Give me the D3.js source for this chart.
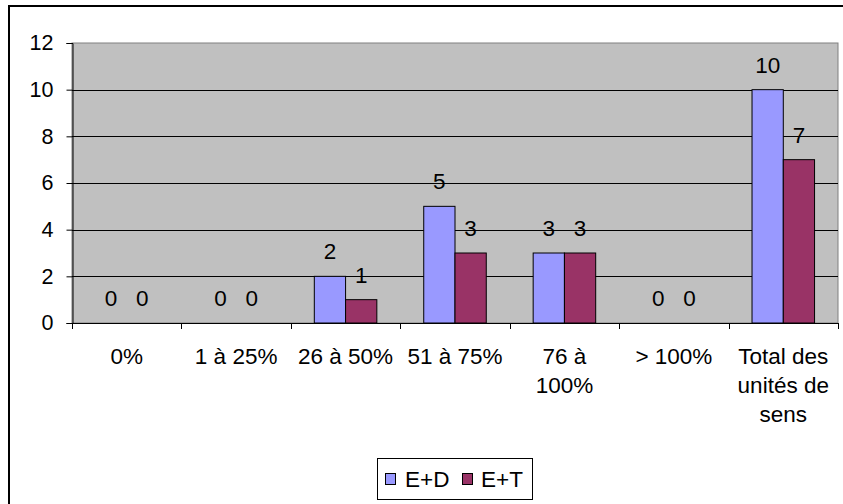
<!DOCTYPE html>
<html>
<head>
<meta charset="utf-8">
<script src="https://cdn.jsdelivr.net/npm/d3@7"></script>
<style>
  html, body { margin: 0; padding: 0; background: #fff; }
  svg text { font-family: "Liberation Sans", Arial, sans-serif; fill: #000; }
</style>
</head>
<body>
<svg id="chart" width="843" height="504"></svg>
<script>
// Répartition des unités de sens par tranche
const categories = [
  ["0%"],
  ["1 à 25%"],
  ["26 à 50%"],
  ["51 à 75%"],
  ["76 à", "100%"],
  ["> 100%"],
  ["Total des", "unités de", "sens"]
];
const seriesNames = ["E+D", "E+T"];
const valuesED = [0, 0, 2, 5, 3, 0, 10];
const valuesET = [0, 0, 1, 3, 3, 0, 7];
const yTicks = [0, 2, 4, 6, 8, 10, 12];
const colors = ["#9999FF", "#993366"];

const svg = d3.select("#chart");
const plot = { left: 72, top: 43, right: 838, bottom: 323 };
const fontSize = 22.5;
const tickFontSize = 21.5;

// Cadre extérieur
svg.append("rect")
  .attr("x", 9).attr("y", 6)
  .attr("width", 900).attr("height", 600)
  .attr("fill", "#fff").attr("stroke", "#000").attr("stroke-width", 2);

const x = d3.scaleBand()
  .domain(d3.range(categories.length))
  .range([plot.left, plot.right])
  .paddingInner(0).paddingOuter(0);

const y = d3.scaleLinear().domain([0, 12]).range([plot.bottom, plot.top]);

// Fond de la zone de traçage
svg.append("rect")
  .attr("x", plot.left).attr("y", plot.top)
  .attr("width", plot.right - plot.left).attr("height", plot.bottom - plot.top)
  .attr("fill", "#C0C0C0").attr("stroke", "#808080").attr("stroke-width", 1);

// Quadrillage horizontal
svg.append("g").selectAll("line")
  .data(yTicks.filter(t => t > 0 && t < 12))
  .join("line")
  .attr("x1", plot.left).attr("x2", plot.right)
  .attr("y1", d => Math.round(y(d)) + 0.5).attr("y2", d => Math.round(y(d)) + 0.5)
  .attr("stroke", "#000").attr("stroke-width", 1);

// Barres groupées
const bandW = x.bandwidth();
const barW = bandW / 3.5;
const series = [valuesED, valuesET];
const gBars = svg.append("g");
series.forEach((vals, si) => {
  gBars.selectAll(null)
    .data(vals)
    .join("rect")
    .attr("x", (d, i) => x(i) + bandW / 2 - barW + si * barW)
    .attr("y", d => y(d))
    .attr("width", barW)
    .attr("height", d => y(0) - y(d))
    .attr("fill", colors[si])
    .attr("stroke", "#000").attr("stroke-width", 1);
});

// Étiquettes de valeur
series.forEach((vals, si) => {
  svg.append("g").selectAll("text")
    .data(vals)
    .join("text")
    .attr("x", (d, i) => x(i) + bandW / 2 - barW + si * barW + barW / 2)
    .attr("y", d => y(d) - 17)
    .attr("text-anchor", "middle")
    .attr("font-size", fontSize)
    .text(d => d);
});

// Axe vertical
const yAxis = d3.axisLeft(y).tickValues(yTicks).tickSize(6).tickPadding(13).tickFormat(d3.format("d"));
const gy = svg.append("g").attr("transform", `translate(${plot.left + 0.5},0)`).call(yAxis);
gy.select(".domain").attr("stroke", "#000");
gy.selectAll(".tick line").attr("stroke", "#000");
gy.selectAll(".tick text").attr("font-size", tickFontSize).attr("font-family", "Liberation Sans, Arial, sans-serif").attr("fill", "#000");

// Axe horizontal
svg.append("line")
  .attr("x1", plot.left).attr("x2", plot.right)
  .attr("y1", plot.bottom + 0.5).attr("y2", plot.bottom + 0.5)
  .attr("stroke", "#000");
svg.append("g").selectAll("line")
  .data(d3.range(categories.length + 1))
  .join("line")
  .attr("x1", i => Math.round(plot.left + i * bandW) + 0.5)
  .attr("x2", i => Math.round(plot.left + i * bandW) + 0.5)
  .attr("y1", plot.bottom).attr("y2", plot.bottom + 6)
  .attr("stroke", "#000");

// Libellés des catégories
const gx = svg.append("g");
categories.forEach((lines, i) => {
  const t = gx.append("text")
    .attr("x", x(i) + bandW / 2)
    .attr("y", 364)
    .attr("text-anchor", "middle")
    .attr("font-size", fontSize);
  lines.forEach((ln, k) => {
    t.append("tspan")
      .attr("x", x(i) + bandW / 2)
      .attr("dy", k === 0 ? 0 : 29)
      .text(ln);
  });
});

// Légende
const legend = svg.append("g");
legend.append("rect")
  .attr("x", 377.5).attr("y", 458.5).attr("width", 155).attr("height", 41)
  .attr("fill", "#fff").attr("stroke", "#000");
const legendItems = [
  { name: seriesNames[0], color: colors[0], sx: 385, tx: 405 },
  { name: seriesNames[1], color: colors[1], sx: 462, tx: 481 }
];
legendItems.forEach(it => {
  legend.append("rect")
    .attr("x", it.sx + 0.5).attr("y", 473.5).attr("width", 10).attr("height", 11)
    .attr("fill", it.color).attr("stroke", "#000");
  legend.append("text")
    .attr("x", it.tx).attr("y", 487)
    .attr("font-size", fontSize)
    .text(it.name);
});
</script>
</body>
</html>
